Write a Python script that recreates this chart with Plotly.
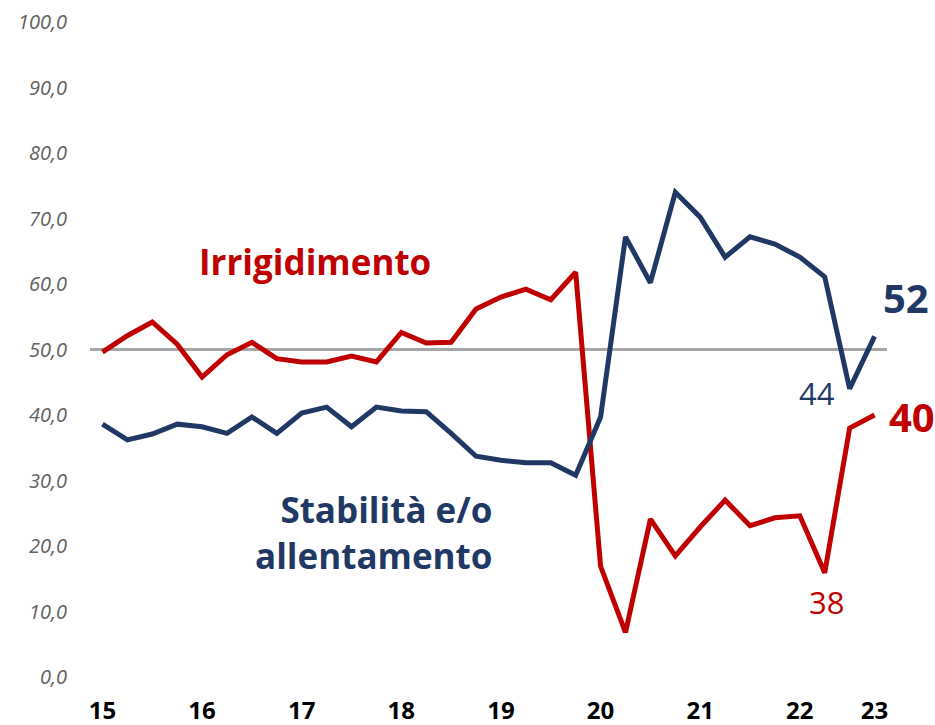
import plotly.graph_objects as go

# Survey rounds, quarterly 2015-2022
quarters = [
    "2015Q1", "2015Q2", "2015Q3", "2015Q4",
    "2016Q1", "2016Q2", "2016Q3", "2016Q4",
    "2017Q1", "2017Q2", "2017Q3", "2017Q4",
    "2018Q1", "2018Q2", "2018Q3", "2018Q4",
    "2019Q1", "2019Q2", "2019Q3", "2019Q4",
    "2020Q1", "2020Q2", "2020Q3", "2020Q4",
    "2021Q1", "2021Q2", "2021Q3", "2021Q4",
    "2022Q1", "2022Q2", "2022Q3", "2022Q4",
]

# Share of answers (%)
irrigidimento = [
    49.6, 52.1, 54.2, 50.8, 45.8, 49.2, 51.1, 48.6,
    48.1, 48.1, 49.0, 48.1, 52.6, 51.0, 51.1, 56.2,
    58.0, 59.2, 57.6, 61.8, 16.9, 6.8, 24.1, 18.5,
    22.9, 27.0, 23.1, 24.3, 24.6, 15.9, 38.0, 40.0,
]
stabilita = [
    38.6, 36.2, 37.1, 38.6, 38.2, 37.2, 39.7, 37.2,
    40.3, 41.2, 38.2, 41.2, 40.6, 40.5, 37.2, 33.7,
    33.1, 32.7, 32.7, 30.8, 39.7, 67.2, 60.2, 74.0,
    70.2, 64.1, 67.2, 66.1, 64.1, 61.1, 44.0, 52.0,
]

tick_vals = ["2015Q1", "2016Q1", "2017Q1", "2018Q1", "2019Q1",
             "2020Q1", "2021Q1", "2022Q1", "2022Q4"]
tick_text = ["15", "16", "17", "18", "19", "20", "21", "22", "23"]
y_ticks = [0, 10, 20, 30, 40, 50, 60, 70, 80, 90, 100]
y_tick_text = [f"{v:.1f}".replace(".", ",") for v in y_ticks]

RED = "#C00000"
NAVY = "#1F3864"
FONT = "Open Sans"

fig = go.Figure()
fig.add_trace(go.Scatter(x=quarters, y=irrigidimento, mode="lines",
                         line=dict(color=RED, width=5), name="Irrigidimento"))
fig.add_trace(go.Scatter(x=quarters, y=stabilita, mode="lines",
                         line=dict(color=NAVY, width=5),
                         name="Stabilità e/o allentamento"))

# 50% reference line
fig.add_shape(type="line", xref="paper", x0=0, x1=1, yref="y", y0=50, y1=50,
              line=dict(color="#A6A6A6", width=3), layer="below")

n = len(quarters)
last = n - 1
ann = [
    dict(text="Irrigidimento", xref="x", x=3.78, y=63.4, xanchor="left", yanchor="middle",
         font=dict(family=FONT, size=35, color=RED, weight="bold")),
    dict(text="Stabilità e/o<br>allentamento", xref="x", x=15.74, y=22.0, xanchor="right",
         yanchor="middle", align="right",
         font=dict(family=FONT, size=35, color=NAVY, weight="bold")),
    # end-of-series values sit just right of the plotting area
    dict(text=f"{stabilita[last]:.0f}", xref="paper", x=0.992, y=57.9,
         xanchor="left", yanchor="middle",
         font=dict(family=FONT, size=40, color=NAVY, weight="bold")),
    dict(text=f"{irrigidimento[last]:.0f}", xref="paper", x=1.0, y=39.8,
         xanchor="left", yanchor="middle",
         font=dict(family=FONT, size=40, color=RED, weight="bold")),
    dict(text=f"{stabilita[last - 1]:.0f}", xref="x", x=28.67, y=43.4,
         xanchor="center", yanchor="middle",
         font=dict(family=FONT, size=31, color=NAVY)),
    dict(text=f"{irrigidimento[last - 1]:.0f}", xref="x", x=29.08, y=11.5,
         xanchor="center", yanchor="middle",
         font=dict(family=FONT, size=31, color=RED)),
]
for a in ann:
    a.update(yref="y", showarrow=False)
    fig.add_annotation(**a)

fig.update_layout(
    width=935, height=725,
    margin=dict(l=90, r=48, t=22, b=48, autoexpand=False),
    paper_bgcolor="white", plot_bgcolor="white",
    showlegend=False,
    xaxis=dict(type="category", categoryorder="array", categoryarray=quarters,
               range=[-0.5, n - 0.5], tickmode="array", tickvals=tick_vals,
               ticktext=tick_text, showgrid=False, zeroline=False, showline=False,
               ticks="", ticklabelstandoff=17, automargin=False,
               tickfont=dict(family=FONT, size=24, color="black", weight="bold")),
    yaxis=dict(range=[0, 100], tickmode="array", tickvals=y_ticks, ticktext=y_tick_text,
               showgrid=False, zeroline=False, showline=False, ticks="",
               ticklabelstandoff=22, automargin=False,
               tickfont=dict(family=FONT, size=20, color="#5F5F5F", style="italic")),
)

fig.write_html("out.html")
